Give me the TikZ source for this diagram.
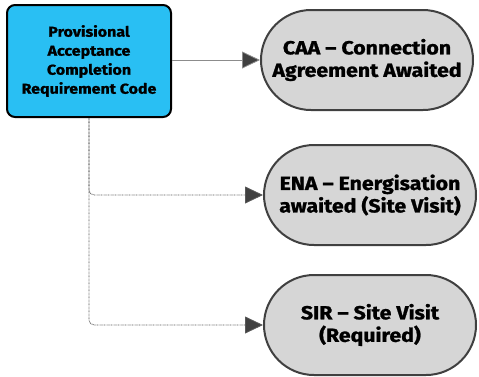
\documentclass[tikz,border=0pt]{standalone}
\usepackage{fontspec}
\setmainfont{Fira Sans}[FakeStretch=1.12, BoldFeatures={FakeBold=1.2}]
\usetikzlibrary{arrows.meta}
\usetikzlibrary{shapes.misc}
\definecolor{codeblue}{HTML}{29BFF3}
\definecolor{pillgray}{HTML}{D6D6D6}

\begin{document}
\begin{tikzpicture}[x=1pt, y=-1pt,
        code_style/.style={rectangle, rounded corners=8pt, draw=black, line width=2pt, fill=codeblue, minimum width=164pt, minimum height=112pt, align=center, font=\fontsize{14.3}{19}\selectfont\bfseries, inner sep=2pt},
        status_style/.style={rounded rectangle, draw=black!75, line width=2pt, fill=pillgray, minimum width=216pt, minimum height=100pt, align=center, font=\fontsize{19}{22.5}\selectfont\bfseries, inner sep=2pt},
        edge_style/.style={draw=black!45, line width=0.8pt, -{Triangle[length=18pt,width=17pt,fill=black!75]}},
        dotted_edge_style/.style={draw=black!65, line width=0.8pt, dash pattern=on 0.7pt off 0.7pt, rounded corners=5pt, -{Triangle[length=18pt,width=17pt,fill=black!75]}}]

        \useasboundingbox (0,0) rectangle (479,376);

        \node [code_style](code) at (89,61) {Provisional\\Acceptance\\Completion\\Requirement Code};

        \node [status_style](caa) at (367,60) {CAA – Connection\\Agreement Awaited};

        \node [status_style](ena) at (370,195) {ENA – Energisation\\awaited (Site Visit)};

        \node [status_style](sir) at (370,325) {SIR – Site Visit\\(Required)};

        \draw [edge_style] (code.east |- caa.west) -- (caa.west);

        \draw [dotted_edge_style] (code.south) |- (ena.west);

        \draw [dotted_edge_style] (code.south) |- (sir.west);

\end{tikzpicture}
\end{document}
